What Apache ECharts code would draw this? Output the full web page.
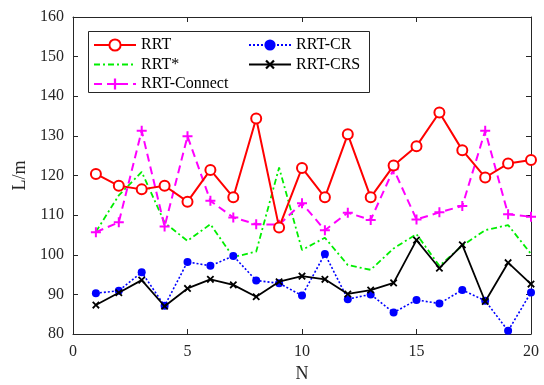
<!DOCTYPE html>
<html><head><meta charset="utf-8">
<script src="https://cdn.jsdelivr.net/npm/echarts@6/dist/echarts.min.js"></script>
<style>html,body{margin:0;padding:0;background:#fff}#c{width:544px;height:385px}</style>
</head><body><div id="c"></div>
<script>
const N = [1,2,3,4,5,6,7,8,9,10,11,12,13,14,15,16,17,18,19,20];
const rrt = [120.4,117.4,116.5,117.4,113.4,121.4,114.5,134.4,106.9,121.9,114.5,130.4,114.5,122.5,127.4,135.9,126.4,119.5,123.0,123.9];
const rrtStar = [105.8,115.0,120.9,108.1,103.5,107.7,99.4,100.8,122.0,101.2,104.3,97.4,96.2,101.6,105.2,97.2,102.3,106.2,107.5,100.2];
const rrtConnect = [105.7,108.2,131.3,107.1,129.9,113.6,109.4,107.7,107.6,113.0,106.2,110.6,108.8,121.6,108.9,110.7,112.3,131.3,110.2,109.6];
const rrtCR = [90.3,90.9,95.6,87.1,98.2,97.2,99.7,93.5,92.8,89.7,100.2,88.8,90.0,85.4,88.6,87.7,91.1,88.4,80.8,90.5];
const rrtCRS = [87.3,90.4,93.6,87.0,91.5,93.8,92.4,89.4,93.2,94.6,93.8,90.1,91.1,92.9,103.7,96.6,102.5,88.2,98.0,92.6];
const xTicks = [0,5,10,15,20];
const yTicks = [80,90,100,110,120,130,140,150,160];

const font = '"Liberation Serif","Times New Roman",serif';
const axisColor = '#262626';
const plus = 'path://M4,0H6V4H10V6H6V10H4V6H0V4H4Z';
const pair = (arr) => N.map((n,i)=>[n,arr[i]]);

const chart = echarts.init(document.getElementById('c'));
const baseX = {type:'value', min:xTicks[0], max:xTicks[xTicks.length-1], interval:5,
  axisLine:{show:true,onZero:false,lineStyle:{color:axisColor,width:1}},
  axisTick:{show:true,inside:true,length:5,lineStyle:{color:axisColor}},
  splitLine:{show:false}};
const baseY = {type:'value', min:yTicks[0], max:yTicks[yTicks.length-1], interval:10,
  axisLine:{show:true,onZero:false,lineStyle:{color:axisColor,width:1}},
  axisTick:{show:true,inside:true,length:5,lineStyle:{color:axisColor}},
  splitLine:{show:false}};

chart.setOption({
  animation:false,
  textStyle:{fontFamily:font},
  grid:{left:73,right:13,top:17,bottom:51,containLabel:false,outerBoundsMode:'none'},
  xAxis:[
    Object.assign({}, baseX, {position:'bottom', name:'N', nameLocation:'middle', nameGap:30,
      nameTextStyle:{fontFamily:font,fontSize:18,color:'#262626'},
      axisLabel:{fontFamily:font,fontSize:16,color:'#262626',margin:10}}),
    Object.assign({}, baseX, {position:'top', axisLabel:{show:false}})
  ],
  yAxis:[
    Object.assign({}, baseY, {position:'left', name:'L/m', nameLocation:'middle', nameGap:42,
      nameTextStyle:{fontFamily:font,fontSize:18,color:'#262626'},
      axisLabel:{fontFamily:font,fontSize:16,color:'#262626',margin:9}}),
    Object.assign({}, baseY, {position:'right', axisLabel:{show:false}})
  ],
  legend:[
    {left:88, top:32, orient:'vertical', itemWidth:42, itemHeight:14, itemGap:3.5,
     textStyle:{fontFamily:font,fontSize:16,color:'#000'},
     data:['RRT',{name:'RRT*',itemStyle:{opacity:0}},'RRT-Connect']},
    {left:243, top:32, orient:'vertical', itemWidth:42, itemHeight:14, itemGap:3.5,
     textStyle:{fontFamily:font,fontSize:16,color:'#000'},
     data:['RRT-CR','RRT-CRS']}
  ],
  graphic:[{type:'rect', left:88, top:31, shape:{width:281,height:61},
    style:{fill:'#fff',stroke:'#262626',lineWidth:1}, z:0, silent:true}],
  series:[
    {name:'RRT', type:'line', data:pair(rrt), symbol:'emptyCircle', symbolSize:10,
     lineStyle:{color:'#ff0000',width:2}, itemStyle:{color:'#ff0000',borderWidth:1.6}, z:5},
    {name:'RRT*', type:'line', data:pair(rrtStar), symbol:'none', showSymbol:false,
     lineStyle:{color:'#00ee00',width:1.8,type:[6,3,2,3]}, itemStyle:{color:'#00ee00'}, z:3},
    {name:'RRT-Connect', type:'line', data:pair(rrtConnect), symbol:plus, symbolSize:10,
     lineStyle:{color:'#ff00ff',width:2,type:[8,5]}, itemStyle:{color:'#ff00ff'}, z:4},
    {name:'RRT-CR', type:'line', data:pair(rrtCR), symbol:'circle', symbolSize:8,
     lineStyle:{color:'#0000ff',width:1.6,type:[2,2]}, itemStyle:{color:'#0000ff'}, z:3},
    {name:'RRT-CRS', type:'line', data:pair(rrtCRS), symbol:plus, symbolSize:9, symbolRotate:45,
     lineStyle:{color:'#000000',width:1.8}, itemStyle:{color:'#000000'}, z:4}
  ]
});
</script>
</body></html>
